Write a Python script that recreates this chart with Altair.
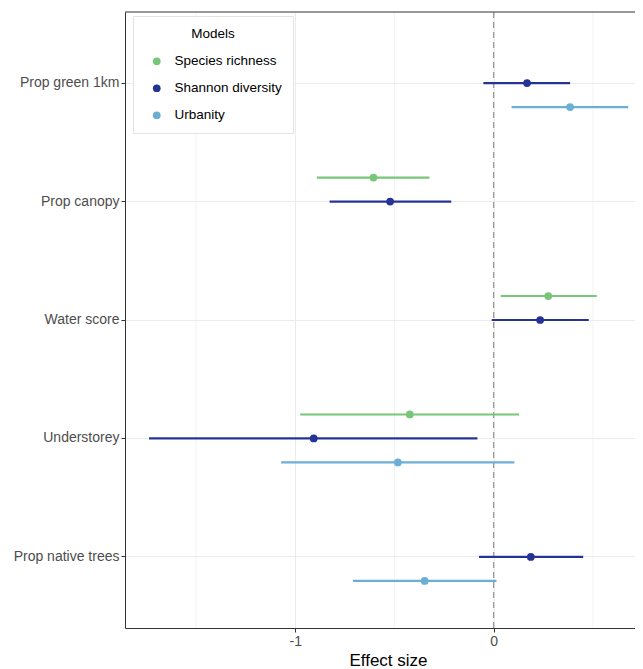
import altair as alt
import pandas as pd

variables = ["Prop green 1km", "Prop canopy", "Water score", "Understorey", "Prop native trees"]
models = ["Species richness", "Shannon diversity", "Urbanity"]
colors = ["#78C679", "#253494", "#6BAED6"]

row_variable = ["Prop green 1km", "Prop green 1km", "Prop canopy", "Prop canopy",
                "Water score", "Water score", "Understorey", "Understorey", "Understorey",
                "Prop native trees", "Prop native trees"]
row_model = ["Shannon diversity", "Urbanity", "Species richness", "Shannon diversity",
             "Species richness", "Shannon diversity", "Species richness", "Shannon diversity",
             "Urbanity", "Shannon diversity", "Urbanity"]
estimate = [0.168, 0.385, -0.606, -0.522, 0.275, 0.234, -0.423, -0.907, -0.483, 0.187, -0.348]
lower = [-0.052, 0.090, -0.891, -0.827, 0.035, -0.010, -0.975, -1.737, -1.071, -0.074, -0.709]
upper = [0.385, 0.678, -0.324, -0.214, 0.519, 0.479, 0.128, -0.082, 0.104, 0.451, 0.014]

major_breaks = [-1, 0]
minor_breaks = [-1.5, -0.5, 0.5]
zero_line = [0]
x_domain = [-1.858, 0.712]

df = pd.DataFrame({"variable": row_variable, "model": row_model,
                   "estimate": estimate, "lower": lower, "upper": upper})
minor_df = pd.DataFrame({"v": minor_breaks})
zero_df = pd.DataFrame({"v": zero_line})

FONT = "Liberation Sans"
W, H = 510, 616

xscale = alt.Scale(domain=x_domain, nice=False, zero=False)
yscale = alt.Scale(domain=variables, paddingInner=0, paddingOuter=0.1)
yoff_scale = alt.Scale(domain=models, paddingInner=0, paddingOuter=0.97)
color_scale = alt.Scale(domain=models, range=colors)

x_axis = alt.Axis(values=major_breaks, labelExpr="toString(datum.value)", title="Effect size",
                  grid=True, gridColor="#EBEBEB", gridWidth=1, titleX=263)
y_axis = alt.Axis(title=None, grid=True, gridColor="#EBEBEB", gridWidth=1, bandPosition=0.5)

legend = alt.Legend(title="Models", orient="none", legendX=8, legendY=4,
                    symbolType="circle", symbolSize=60, symbolStrokeWidth=0,
                    symbolOpacity=1,
                    padding=11, symbolOffset=6, labelOffset=11,
                    rowPadding=12, titlePadding=14, titleAnchor="middle",
                    strokeColor="#E3E3E3", fillColor="white",
                    labelFontSize=13.5, labelColor="#000000", labelFont=FONT,
                    titleFontSize=13.5, titleFontWeight="normal",
                    titleColor="#000000", titleFont=FONT)

minor = alt.Chart(minor_df).mark_rule(color="#EBEBEB", strokeWidth=0.6).encode(
    x=alt.X("v:Q", scale=xscale, axis=x_axis)
)

zero = alt.Chart(zero_df).mark_rule(color="#7F7F7F", strokeWidth=1, strokeDash=[6, 4]).encode(
    x=alt.X("v:Q", scale=xscale, axis=x_axis)
)

top_border = alt.Chart(zero_df).mark_rule(color="#333333", strokeWidth=1).encode(
    x=alt.value(0), x2=alt.value(W), y=alt.value(0)
)

bars = alt.Chart(df).mark_rule(strokeWidth=2.2).encode(
    x=alt.X("lower:Q", scale=xscale, axis=x_axis),
    x2="upper:Q",
    y=alt.Y("variable:N", scale=yscale, axis=y_axis, sort=variables),
    yOffset=alt.YOffset("model:N", scale=yoff_scale, sort=models),
    color=alt.Color("model:N", scale=color_scale, legend=legend),
)

points = alt.Chart(df).mark_circle(size=60, opacity=1).encode(
    x=alt.X("estimate:Q", scale=xscale, axis=x_axis),
    y=alt.Y("variable:N", scale=yscale, axis=y_axis, sort=variables),
    yOffset=alt.YOffset("model:N", scale=yoff_scale, sort=models),
    color=alt.Color("model:N", scale=color_scale, legend=legend),
)

chart = alt.layer(minor, zero, top_border, bars, points).properties(
    width=W, height=H,
    autosize=alt.AutoSizeParams(type="none"),
    padding={"left": 117, "top": 4, "right": 0, "bottom": 45},
).configure_view(
    stroke=None
).configure_axis(
    labelFont=FONT, labelFontSize=14, labelColor="#4D4D4D",
    titleFont=FONT, titleFontSize=17, titleColor="#000000", titleFontWeight="normal",
    tickColor="#333333", tickSize=4, tickWidth=1, domain=True, domainColor="#333333",
    domainWidth=1, labelPadding=2,
).configure_axisX(
    titlePadding=4
)

chart.save("out.html", embed_options={"renderer": "svg", "actions": False})
